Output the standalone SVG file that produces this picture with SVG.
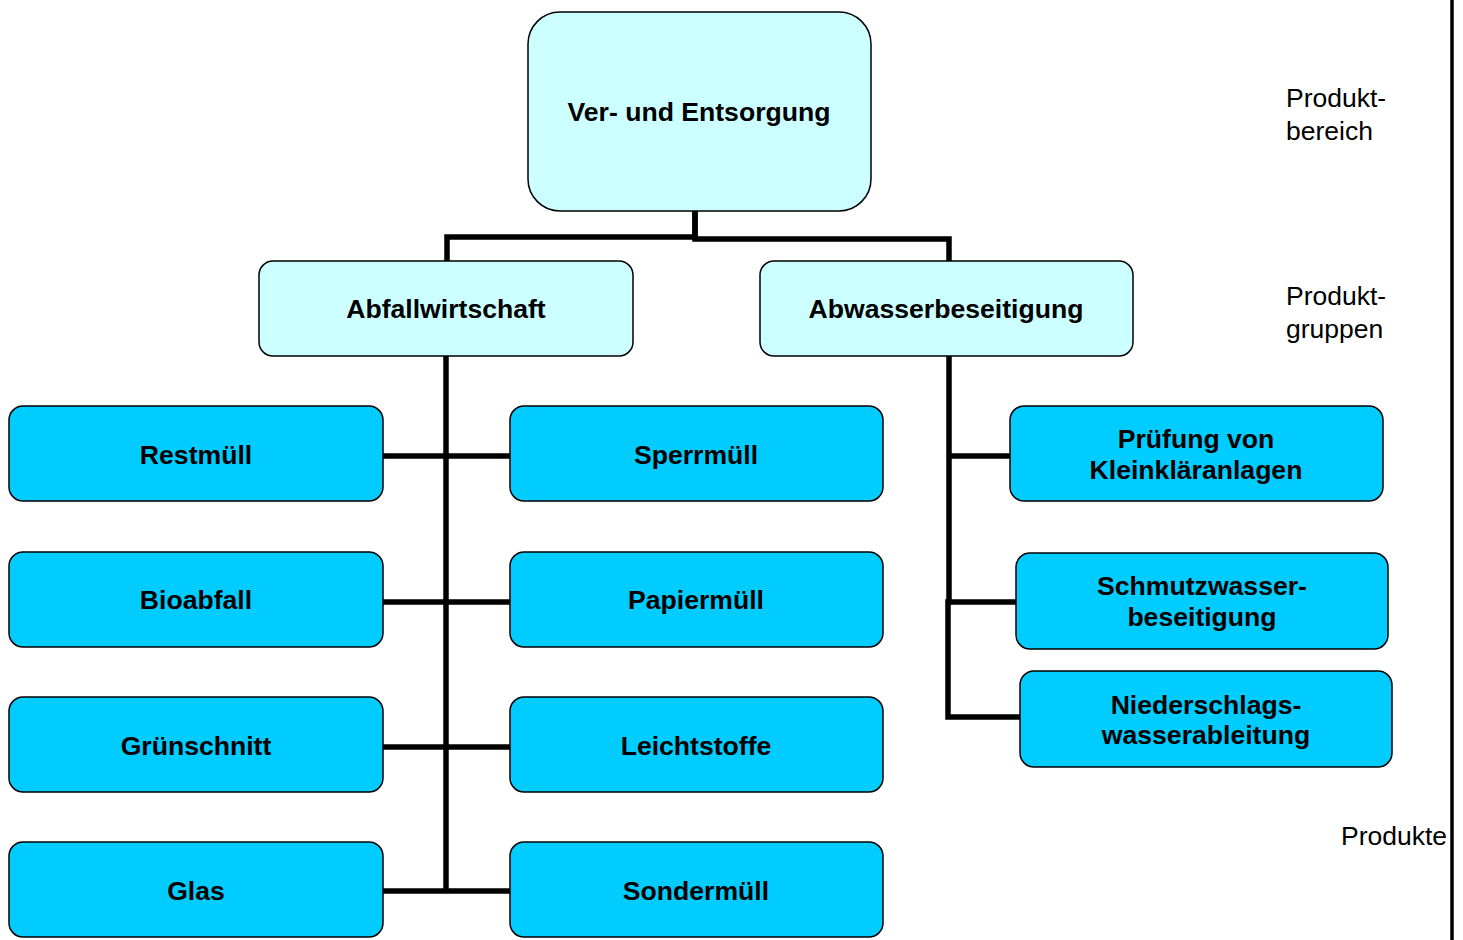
<svg xmlns="http://www.w3.org/2000/svg" width="1463" height="940" viewBox="0 0 1463 940">
<style>
.top{fill:#CCFFFF;stroke:#000;stroke-width:1.5}
.grp{fill:#CCFFFF;stroke:#000;stroke-width:1.5}
.prd{fill:#00CCFF;stroke:#000;stroke-width:1.5}
.t{font-family:"Liberation Sans",Arial,sans-serif;font-weight:bold;font-size:26.6px;fill:#000;text-anchor:middle}
.lbl{font-family:"Liberation Sans",Arial,sans-serif;font-size:26.5px;fill:#000}
.c{fill:none;stroke:#000;stroke-width:5.5}
</style>
<rect width="1463" height="940" fill="#fff"/>
<g id="connectors">
<polyline class="c" points="695,211 695,237 447,237 447,261"/>
<polyline class="c" points="695,211 695,239 949,239 949,261"/>
<line class="c" x1="446" y1="356" x2="446" y2="893"/>
<line class="c" x1="383" y1="456" x2="510" y2="456"/>
<line class="c" x1="383" y1="602" x2="510" y2="602"/>
<line class="c" x1="383" y1="747" x2="510" y2="747"/>
<line class="c" x1="383" y1="891" x2="510" y2="891"/>
<polyline class="c" points="949,356 949,602 948,602 948,717 1020,717"/>
<line class="c" x1="949" y1="456" x2="1010" y2="456"/>
<line class="c" x1="949" y1="602" x2="1016" y2="602"/>
</g>
<g id="n-root"><rect class="top" x="528" y="12" width="343" height="199" rx="32"/><text class="t" x="699" y="121">Ver- und Entsorgung</text></g>
<g id="n-abfall"><rect class="grp" x="259" y="261" width="374" height="95" rx="14"/><text class="t" x="446" y="318">Abfallwirtschaft</text></g>
<g id="n-abwasser"><rect class="grp" x="760" y="261" width="373" height="95" rx="14"/><text class="t" x="946" y="318">Abwasserbeseitigung</text></g>
<g id="n-restmuell"><rect class="prd" x="9" y="406" width="374" height="95" rx="14"/><text class="t" x="196" y="464">Restmüll</text></g>
<g id="n-bioabfall"><rect class="prd" x="9" y="552" width="374" height="95" rx="14"/><text class="t" x="196" y="609">Bioabfall</text></g>
<g id="n-gruenschnitt"><rect class="prd" x="9" y="697" width="374" height="95" rx="14"/><text class="t" x="196" y="755">Grünschnitt</text></g>
<g id="n-glas"><rect class="prd" x="9" y="842" width="374" height="95" rx="14"/><text class="t" x="196" y="900">Glas</text></g>
<g id="n-sperrmuell"><rect class="prd" x="510" y="406" width="373" height="95" rx="14"/><text class="t" x="696" y="464">Sperrmüll</text></g>
<g id="n-papiermuell"><rect class="prd" x="510" y="552" width="373" height="95" rx="14"/><text class="t" x="696" y="609">Papiermüll</text></g>
<g id="n-leichtstoffe"><rect class="prd" x="510" y="697" width="373" height="95" rx="14"/><text class="t" x="696" y="755">Leichtstoffe</text></g>
<g id="n-sondermuell"><rect class="prd" x="510" y="842" width="373" height="95" rx="14"/><text class="t" x="696" y="900">Sondermüll</text></g>
<g id="n-pruefung"><rect class="prd" x="1010" y="406" width="373" height="95" rx="14"/><text class="t" x="1196" y="448">Prüfung von</text><text class="t" x="1196" y="479">Kleinkläranlagen</text></g>
<g id="n-schmutz"><rect class="prd" x="1016" y="553" width="372" height="96" rx="14"/><text class="t" x="1202" y="595">Schmutzwasser-</text><text class="t" x="1202" y="626">beseitigung</text></g>
<g id="n-nieder"><rect class="prd" x="1020" y="671" width="372" height="96" rx="14"/><text class="t" x="1206" y="714">Niederschlags-</text><text class="t" x="1206" y="744">wasserableitung</text></g>
<g id="labels">
<text class="lbl" x="1286" y="107">Produkt-</text>
<text class="lbl" x="1286" y="140">bereich</text>
<text class="lbl" x="1286" y="305">Produkt-</text>
<text class="lbl" x="1286" y="338">gruppen</text>
<text class="lbl" x="1341" y="845">Produkte</text>
</g>
<line x1="1452" y1="0" x2="1452" y2="940" stroke="#000" stroke-width="3.5"/>
</svg>
